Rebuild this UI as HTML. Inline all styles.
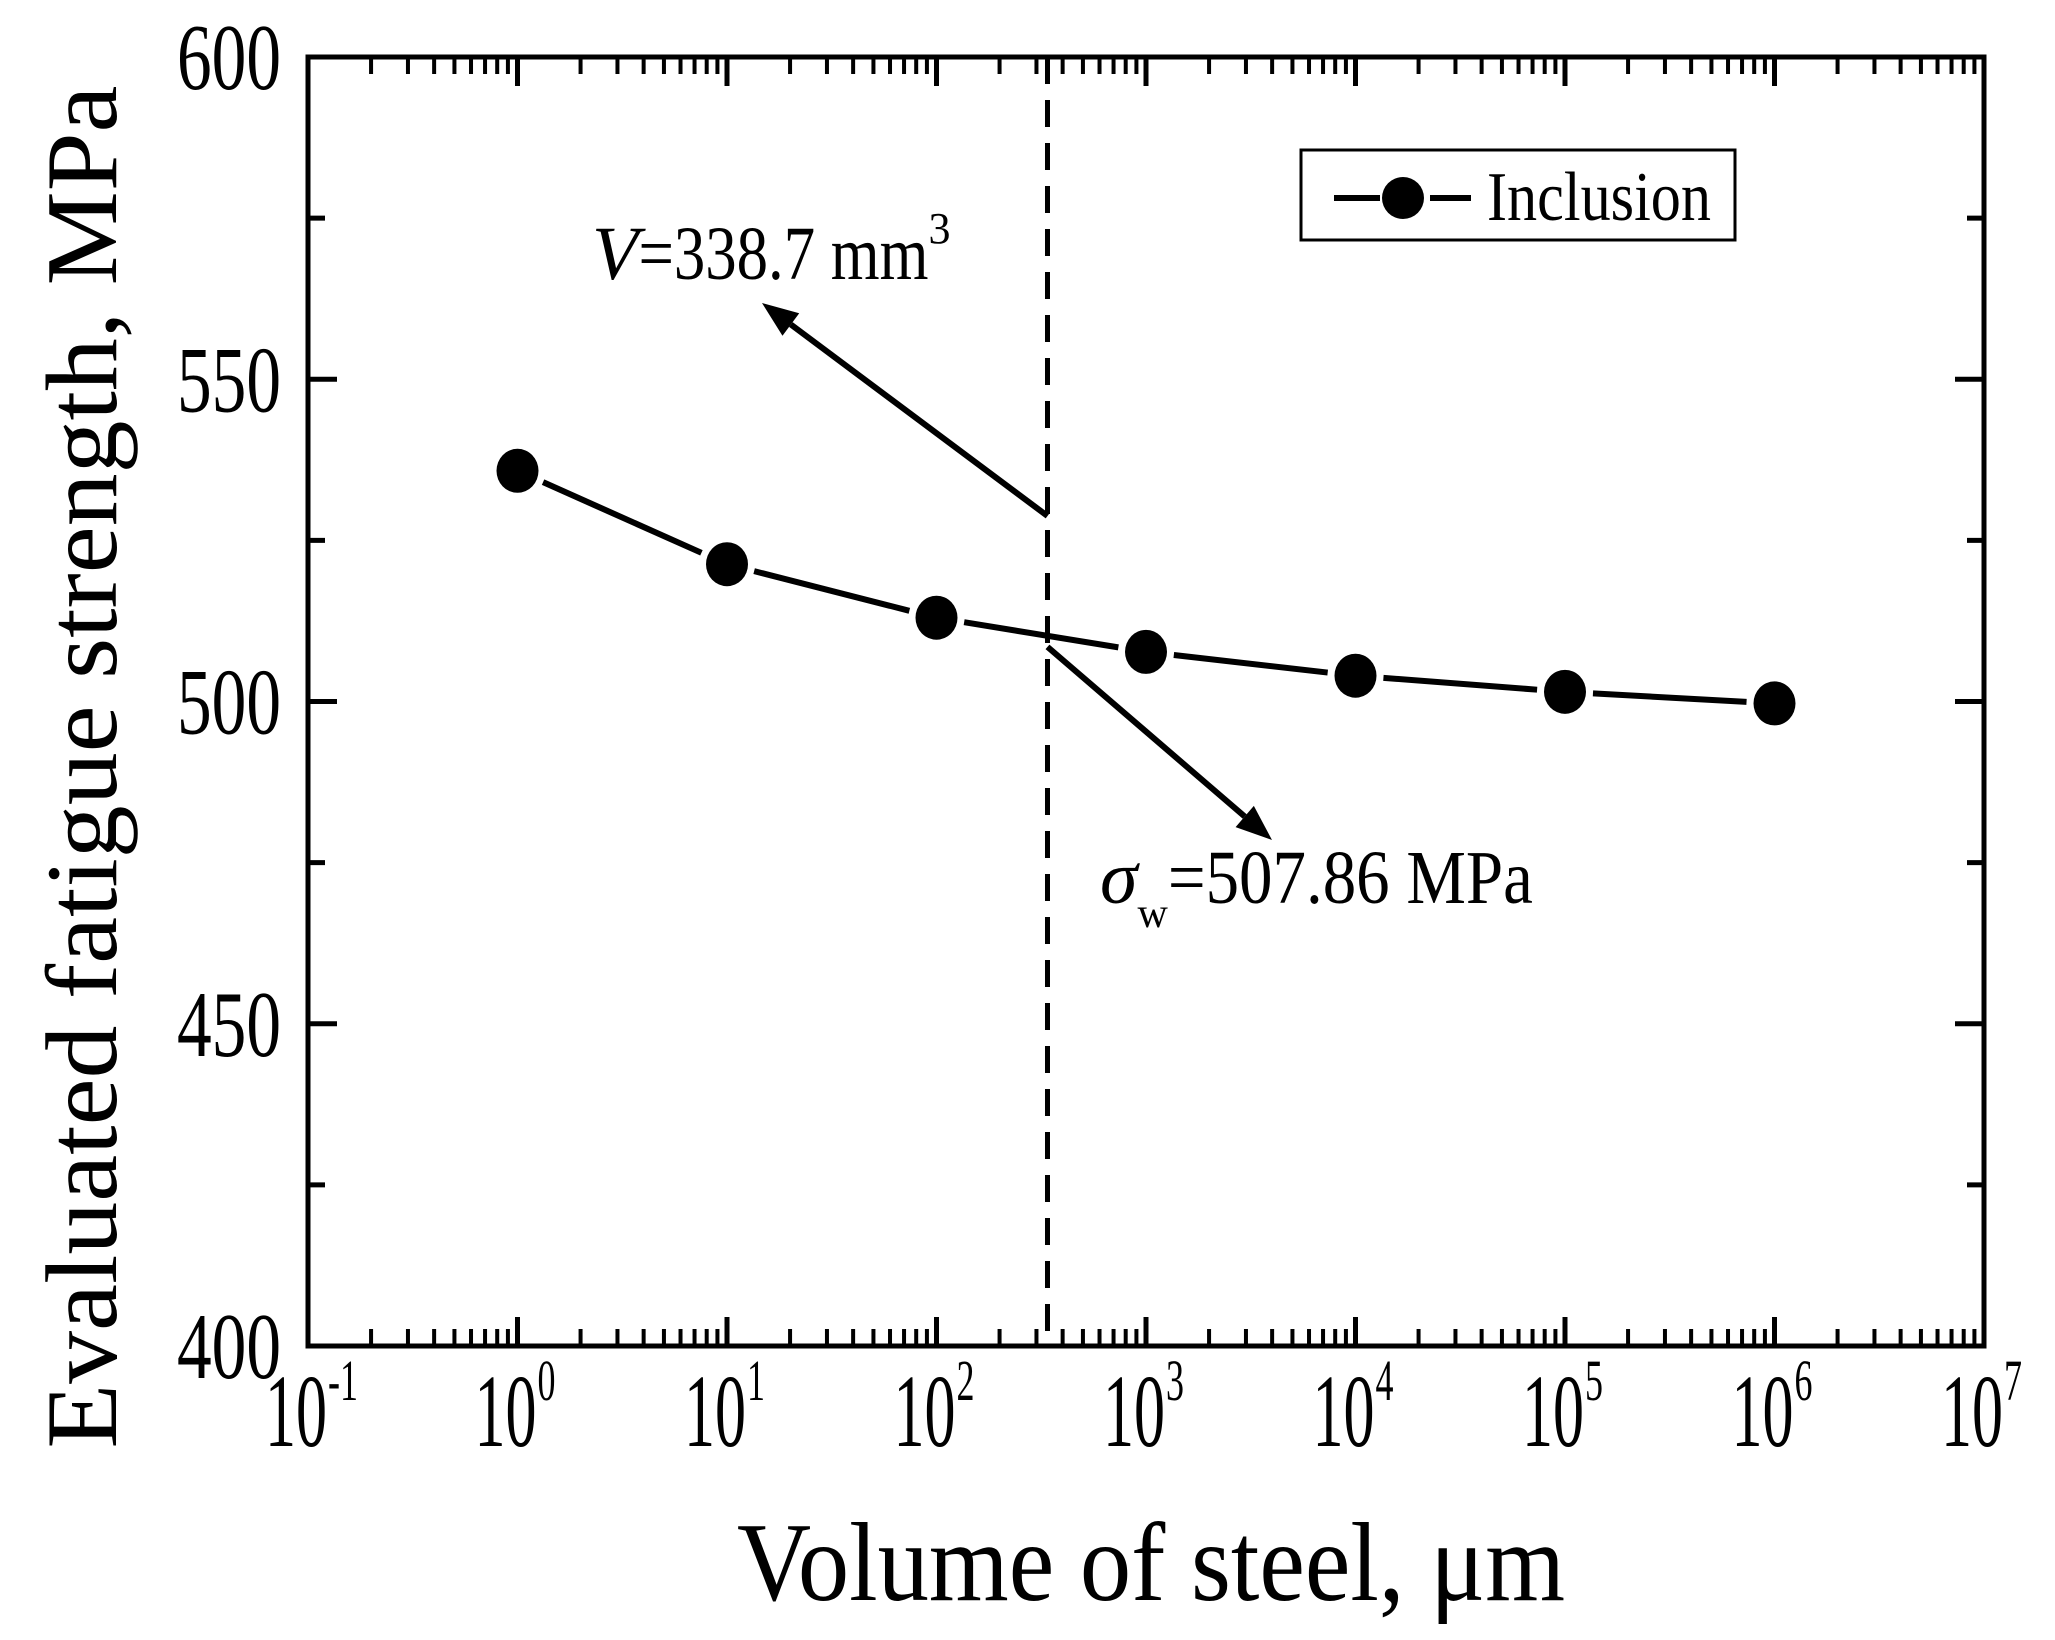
<!DOCTYPE html>
<html><head><meta charset="utf-8"><style>
html,body{margin:0;padding:0;background:#fff;}
svg{display:block;font-family:"Liberation Serif",serif;}
</style></head><body>
<svg id="chart" width="2055" height="1640" viewBox="0 0 2055 1640" xmlns="http://www.w3.org/2000/svg">
<g id="plot"></g>
</svg>
<script>
const volumes = [1, 10, 100, 1000, 10000, 100000, 1000000];
const strength = [535.8, 521.3, 513.0, 507.7, 504.0, 501.5, 499.7];
const yTicks = [400, 450, 500, 550, 600];
const yTickLabels = ["400", "450", "500", "550", "600"];
const xExponents = [-1, 0, 1, 2, 3, 4, 5, 6, 7];
const xTickLabels = ["-1", "0", "1", "2", "3", "4", "5", "6", "7"];
const criticalVolume = [338.7];
const criticalStrength = [507.86];

const L = 308, R = 1984, T = 57, B = 1346;
const NS = "http://www.w3.org/2000/svg";
const g = document.getElementById('plot');
function xs(v){ return L + (Math.log10(v) + 1) / 8 * (R - L); }
function ys(v){ return B - (v - 400) / 200 * (B - T); }
function el(tag, attrs, parent){
  const e = document.createElementNS(NS, tag);
  for (const k in attrs) e.setAttribute(k, attrs[k]);
  (parent || g).appendChild(e);
  return e;
}

const frame = el('rect', {x:L, y:T, width:R-L, height:B-T, fill:'none', stroke:'#000', 'stroke-width':5});



for (let d = -1; d <= 7; d++) {
  const xm = xs(Math.pow(10, d));
  for (const yy of [[B, B-29], [T, T+29]]) {
    const t = el('line', {x1:xm, x2:xm, y1:yy[0], y2:yy[1], stroke:'#000', 'stroke-width':5});
    
    
  }
  if (d < 7) for (let m = 2; m <= 9; m++) {
    const xn = xs(m * Math.pow(10, d));
    for (const yy of [[B, B-17], [T, T+17]]) {
      const t = el('line', {x1:xn, x2:xn, y1:yy[0], y2:yy[1], stroke:'#000', 'stroke-width':4});
      
      
    }
  }
}
xExponents.forEach((e, i) => {
  const xm = xs(Math.pow(10, e));
  const t = el('text', {x:xm-43, y:1446, 'font-size':104, textLength:62, lengthAdjust:'spacingAndGlyphs'});
  t.textContent = '10';
  
  
  const s = el('text', {x:xm+20, y:1400, 'font-size':58, textLength: xTickLabels[i].length > 1 ? 30 : 18, lengthAdjust:'spacingAndGlyphs'});
  s.textContent = xTickLabels[i];
  
  
});

for (let v = 400; v <= 600; v += 25) {
  const yy = ys(v);
  const major = v % 50 === 0;
  const len = major ? 29 : 17;
  for (const xx of [[L, L+len], [R, R-len]]) {
    const t = el('line', {x1:xx[0], x2:xx[1], y1:yy, y2:yy, stroke:'#000', 'stroke-width':5});
    
    
  }
}
yTicks.forEach((v, i) => {
  const t = el('text', {x:281, y:ys(v)+32, 'font-size':94, 'text-anchor':'end', textLength:104, lengthAdjust:'spacingAndGlyphs'});
  t.textContent = yTickLabels[i];
  
  
});

const xt = el('text', {x:737, y:1600, 'font-size':112, textLength:828, lengthAdjust:'spacingAndGlyphs'});
xt.textContent = 'Volume of steel, \u03bcm';


const yt = el('text', {x:0, y:0, 'font-size':102, 'text-anchor':'middle', textLength:1363, lengthAdjust:'spacingAndGlyphs', transform:'translate(116,767) rotate(-90)'});
yt.textContent = 'Evaluated fatigue strength, MPa';



const cx = xs(criticalVolume[0]);
const dl = el('line', {x1:cx, x2:cx, y1:T, y2:B, stroke:'#000', 'stroke-width':5, 'stroke-dasharray':'27 16'});



const gap = 28;
for (let i = 0; i < volumes.length - 1; i++) {
  const x1 = xs(volumes[i]), y1 = ys(strength[i]), x2 = xs(volumes[i+1]), y2 = ys(strength[i+1]);
  const dx = x2-x1, dy = y2-y1, len = Math.hypot(dx, dy);
  const ux = dx/len, uy = dy/len;
  const s = el('line', {x1:x1+ux*gap, y1:y1+uy*gap, x2:x2-ux*gap, y2:y2-uy*gap, stroke:'#000', 'stroke-width':6});
  
  
}
volumes.forEach((v, i) => {
  const c = el('ellipse', {cx:xs(v), cy:ys(strength[i]), rx:21, ry:22, fill:'#000'});
  
  
});

function arrow(x1, y1, x2, y2, name){
  const dx = x2-x1, dy = y2-y1, len = Math.hypot(dx, dy), ux = dx/len, uy = dy/len;
  const hl = 36, hw = 14;
  const bx = x2-ux*hl, by = y2-uy*hl;
  const ln = el('line', {x1:x1, y1:y1, x2:bx, y2:by, stroke:'#000', 'stroke-width':6});
  
  
  const p = el('polygon', {points:`${x2},${y2} ${bx-uy*hw},${by+ux*hw} ${bx+uy*hw},${by-ux*hw}`, fill:'#000'});
  
  
}
arrow(cx, 516, 762, 303, 'volume-arrow');
arrow(cx, ys(criticalStrength[0]) - 4, 1272, 840, 'strength-arrow');

const va = el('text', {x:592, y:279, 'font-size':76});
va.innerHTML = '<tspan font-style="italic">V</tspan><tspan textLength="290" lengthAdjust="spacingAndGlyphs">=338.7 mm</tspan><tspan font-size="44" dy="-36">3</tspan>';


const sa = el('text', {x:1100, y:903, 'font-size':76});
sa.innerHTML = '<tspan font-style="italic">\u03c3</tspan><tspan font-size="42" dy="24">w</tspan><tspan dy="-24" textLength="365" lengthAdjust="spacingAndGlyphs">=507.86 MPa</tspan>';



const lg = el('g', {});


const lb = el('rect', {x:1301, y:150, width:434, height:90, fill:'#fff', stroke:'#000', 'stroke-width':3}, lg);


const l1 = el('line', {x1:1334, x2:1380, y1:198, y2:198, stroke:'#000', 'stroke-width':6}, lg);


const l2 = el('line', {x1:1430, x2:1471, y1:198, y2:198, stroke:'#000', 'stroke-width':6}, lg);


const lm = el('circle', {cx:1403, cy:198, r:21, fill:'#000'}, lg);


const ltx = el('text', {x:1487, y:220, 'font-size':70, textLength:224, lengthAdjust:'spacingAndGlyphs'}, lg);
ltx.textContent = 'Inclusion';


</script>
</body></html>
